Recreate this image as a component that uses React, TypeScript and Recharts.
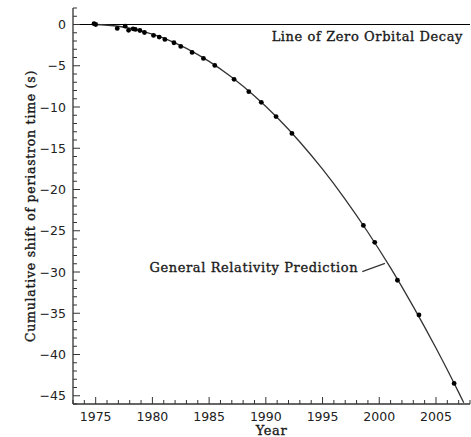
import React from 'react';
import { ComposedChart, Line, Scatter, XAxis, YAxis, ReferenceLine } from 'recharts';

// Observed periastron shift measurements
const obsYears = [1974.85, 1975.0, 1976.9, 1977.6, 1977.9, 1978.3, 1978.5, 1978.9, 1979.3, 1980.1, 1980.6, 1981.1, 1981.9, 1982.5, 1983.5, 1984.5, 1985.5, 1987.2, 1988.5, 1989.6, 1990.9, 1992.3, 1998.6, 1999.6, 2001.6, 2003.5, 2006.6];
const obsShifts = [0.1, 0.0, -0.48, -0.2, -0.7, -0.52, -0.6, -0.73, -0.97, -1.33, -1.53, -1.81, -2.21, -2.66, -3.39, -4.11, -4.96, -6.65, -8.14, -9.43, -11.16, -13.2, -24.35, -26.4, -31.0, -35.2, -43.5];

// General Relativity prediction curve
const grYears = [1974.8, 1977, 1979, 1981, 1983, 1985, 1987, 1989, 1991, 1993, 1995, 1997, 1999, 2001, 2003, 2005, 2007, 2007.45];
const grShifts = [0, -0.21, -0.76, -1.65, -2.89, -4.47, -6.4, -8.67, -11.28, -14.24, -17.54, -21.19, -25.18, -29.51, -34.19, -39.22, -44.59, -45.84];

// Axis ticks
const xTicks = [1973, 1974, 1975, 1976, 1977, 1978, 1979, 1980, 1981, 1982, 1983, 1984, 1985, 1986, 1987, 1988, 1989, 1990, 1991, 1992, 1993, 1994, 1995, 1996, 1997, 1998, 1999, 2000, 2001, 2002, 2003, 2004, 2005, 2006, 2007, 2008];
const yTicks = [2, 1, 0, -1, -2, -3, -4, -5, -6, -7, -8, -9, -10, -11, -12, -13, -14, -15, -16, -17, -18, -19, -20, -21, -22, -23, -24, -25, -26, -27, -28, -29, -30, -31, -32, -33, -34, -35, -36, -37, -38, -39, -40, -41, -42, -43, -44, -45, -46];
const xDomain = [1973, 2008];
const yDomain = [-46, 2];

const zeroLabel = 'Line of Zero Orbital Decay';
const grLabel = 'General Relativity Prediction';
const grLeader = [{ x: 1998.5, y: -29.96 }, { x: 2000.5, y: -28.95 }];

const obsData = obsYears.map((x, i) => ({ x, y: obsShifts[i] }));
const grData = grYears.map((x, i) => ({ x, y: grShifts[i] }));

const AX = '#333';
const SANS = 'DejaVu Sans, sans-serif';
const SERIF = 'DejaVu Serif, serif';
const serifStyle = { fontFamily: SERIF, fill: '#1a1a1a', stroke: '#1a1a1a', strokeWidth: 0.35 } as const;

const isMajor = (v: number) => Math.round(v) % 5 === 0;
const fmt = (v: number) => (v < 0 ? '\u2212' + Math.abs(v) : String(v));

const BottomTick = (p: any) => {
  const { x, y, payload } = p;
  const m = isMajor(payload.value);
  return (
    <g>
      <line x1={x} y1={y} x2={x} y2={y - (m ? 7 : 4)} stroke={AX} strokeWidth={1} />
      {m && (
        <text x={x} y={y + 17} textAnchor="middle" fontFamily={SANS} fontSize={12.5} fill="#222">
          {payload.value}
        </text>
      )}
    </g>
  );
};
const TopTick = (p: any) => {
  const { x, y, payload } = p;
  const m = isMajor(payload.value);
  return <line x1={x} y1={y} x2={x} y2={y + (m ? 7 : 4)} stroke={AX} strokeWidth={1} />;
};
const LeftTick = (p: any) => {
  const { x, y, payload } = p;
  const m = isMajor(payload.value);
  const show = m && payload.value <= 0;
  return (
    <g>
      <line x1={x} y1={y} x2={x + (m ? 7 : 4)} y2={y} stroke={AX} strokeWidth={1} />
      {show && (
        <text x={x - 7} y={y + 4.5} textAnchor="end" fontFamily={SANS} fontSize={12.5} fill="#222">
          {fmt(payload.value)}
        </text>
      )}
    </g>
  );
};
const RightTick = (p: any) => {
  const { x, y, payload } = p;
  const m = isMajor(payload.value);
  return <line x1={x} y1={y} x2={x - (m ? 7 : 4)} y2={y} stroke={AX} strokeWidth={1} />;
};

export default function App() {
  return (
    <div style={{ position: 'absolute', left: 0, top: 0, background: '#fff' }}>
      <ComposedChart width={471} height={437} margin={{ top: 8, right: 1, bottom: 0, left: 0 }}>
        <XAxis
          xAxisId="bottom"
          type="number"
          dataKey="x"
          domain={xDomain}
          ticks={xTicks}
          interval={0}
          allowDataOverflow
          height={33}
          tickSize={0}
          tickMargin={0}
          tickLine={false}
          tick={BottomTick}
          axisLine={{ stroke: AX, strokeWidth: 1.3 }}
          label={(lp: any) => {
            const vb = lp.viewBox;
            return (
              <text x={vb.x + vb.width / 2} y={vb.y + 30.5} textAnchor="middle" fontSize={13} letterSpacing={0.6} {...serifStyle}>
                Year
              </text>
            );
          }}
        />
        <XAxis
          xAxisId="top"
          orientation="top"
          type="number"
          dataKey="x"
          domain={xDomain}
          ticks={xTicks}
          interval={0}
          allowDataOverflow
          height={0}
          tickSize={0}
          tickMargin={0}
          tickLine={false}
          tick={TopTick}
          axisLine={{ stroke: AX, strokeWidth: 1.3 }}
        />
        <YAxis
          yAxisId="left"
          type="number"
          domain={yDomain}
          ticks={yTicks}
          interval={0}
          allowDataOverflow
          width={73}
          tickSize={0}
          tickMargin={0}
          tickLine={false}
          tick={LeftTick}
          axisLine={{ stroke: AX, strokeWidth: 1.3 }}
          label={(lp: any) => {
            const vb = lp.viewBox;
            const cx = vb.x + 30;
            const cy = vb.y + vb.height / 2;
            return (
              <text x={cx} y={cy} transform={`rotate(-90, ${cx}, ${cy})`} textAnchor="middle" dominantBaseline="central" fontSize={12.5} letterSpacing={0.75} {...serifStyle}>
                Cumulative shift of periastron time (s)
              </text>
            );
          }}
        />
        <YAxis
          yAxisId="right"
          orientation="right"
          type="number"
          domain={yDomain}
          ticks={yTicks}
          interval={0}
          allowDataOverflow
          width={0}
          tickSize={0}
          tickMargin={0}
          tickLine={false}
          tick={RightTick}
          axisLine={{ stroke: AX, strokeWidth: 1.3 }}
        />
        <ReferenceLine
          xAxisId="bottom"
          yAxisId="left"
          y={0}
          stroke="#000"
          strokeWidth={1.2}
          label={(lp: any) => {
            const vb = lp.viewBox;
            return (
              <text x={vb.x + vb.width - 7} y={vb.y + 16} textAnchor="end" fontSize={13} letterSpacing={0.6} {...serifStyle}>
                {zeroLabel}
              </text>
            );
          }}
        />
        <ReferenceLine
          xAxisId="bottom"
          yAxisId="left"
          segment={grLeader}
          stroke="#333"
          strokeWidth={1.2}
          label={(lp: any) => {
            const vb = lp.viewBox;
            return (
              <text x={vb.x - 4} y={vb.y + vb.height / 2 + 4.5} textAnchor="end" fontSize={13} letterSpacing={0.6} {...serifStyle}>
                {grLabel}
              </text>
            );
          }}
        />
        <Line
          xAxisId="top"
          yAxisId="right"
          data={grData}
          dataKey="y"
          type="monotone"
          stroke="#333"
          strokeWidth={1.3}
          dot={false}
          activeDot={false}
          isAnimationActive={false}
        />
        <Scatter
          xAxisId="bottom"
          yAxisId="left"
          data={obsData}
          dataKey="y"
          fill="#000"
          shape={(sp: any) => <circle cx={sp.cx} cy={sp.cy} r={2.4} fill="#000" />}
          isAnimationActive={false}
        />
      </ComposedChart>
    </div>
  );
}
